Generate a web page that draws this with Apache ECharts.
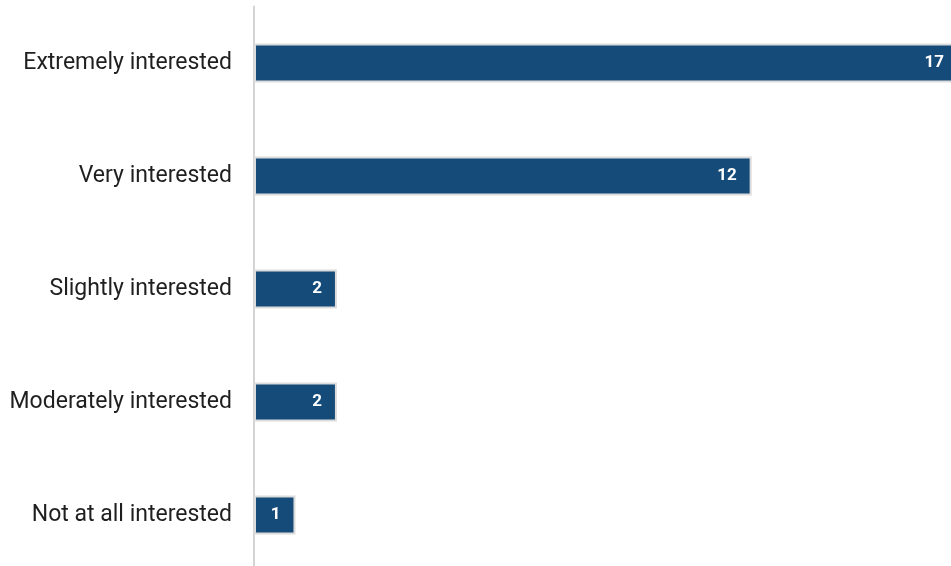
<!DOCTYPE html>
<html>
<head>
<meta charset="utf-8">
<script src="https://cdn.jsdelivr.net/npm/echarts@6/dist/echarts.min.js"></script>
<style>
  html, body { margin: 0; padding: 0; background: #fff; }
  #chart { width: 951px; height: 566px; }
</style>
</head>
<body>
<div id="chart"></div>
<script>
// Interest levels, listed top to bottom
const categories = [
  'Extremely interested',
  'Very interested',
  'Slightly interested',
  'Moderately interested',
  'Not at all interested'
];
const counts = [17, 12, 2, 2, 1];

const chart = echarts.init(document.getElementById('chart'));
chart.setOption({
  animation: false,
  grid: {
    left: 254, width: 705, top: 6.5, height: 565,
    outerBoundsMode: 'none'
  },
  xAxis: {
    type: 'value',
    min: 0,
    max: 17,
    show: false
  },
  yAxis: {
    type: 'category',
    data: categories,
    inverse: true,
    axisLine: { show: true, lineStyle: { color: '#d4d4d4', width: 2 } },
    axisTick: { show: false },
    splitLine: { show: false },
    axisLabel: {
      margin: 22,
      fontFamily: 'Roboto',
      fontSize: 23,
      color: '#1f1f1f'
    }
  },
  series: [{
    type: 'bar',
    data: counts,
    barWidth: 39,
    itemStyle: {
      color: '#154b79',
      borderColor: '#dcdcdc',
      borderWidth: 2
    },
    label: {
      show: true,
      position: 'insideRight',
      distance: 15,
      color: '#ffffff',
      fontFamily: 'Roboto',
      fontWeight: 'bold',
      fontSize: 17
    }
  }]
});
</script>
</body>
</html>
